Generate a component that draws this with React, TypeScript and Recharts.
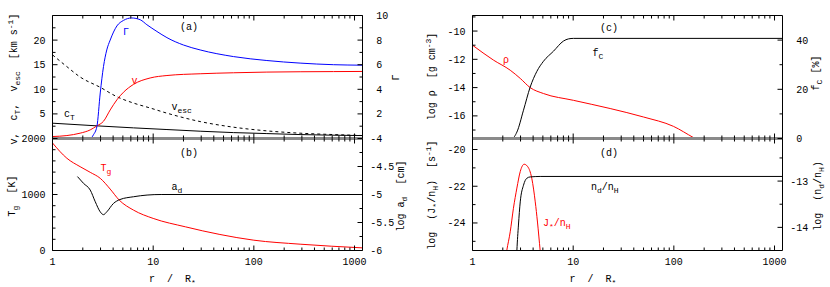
import React from 'react';
import { LineChart, Line, XAxis, YAxis } from 'recharts';

type Pt = [number, number];

const FONT = '"Liberation Mono", "DejaVu Sans Mono", monospace';

// shared log x axis (r / R*)
const xDomain = [1, 1200];
const xMajor = [1, 10, 100, 1000];
const xMinor = [2, 3, 4, 5, 6, 7, 8, 9, 20, 30, 40, 50, 60, 70, 80, 90, 200, 300, 400, 500, 600, 700, 800, 900];
const xLabels = ['1', '10', '100', '1000'];

// (a) v, c_T, v_esc [km/s] (left) and Gamma (right)
const vPts: Pt[] = [[1, 0.4], [1.39, 0.6], [1.88, 1.08], [2.37, 1.75], [2.76, 2.57], [3.21, 3.5], [3.74, 5.8], [4.36, 7.86], [5.07, 9.4], [6.38, 11.0], [9.33, 12.3], [13.7, 12.8], [29.3, 13.16], [62.8, 13.36], [134.6, 13.5], [617, 13.6], [1197, 13.63]];
const cTPts: Pt[] = [[1, 3.11], [2.76, 2.57], [6.38, 2.16], [13.7, 1.82], [29.3, 1.48], [62.8, 1.2], [134.6, 1.0], [288, 0.8], [1197, 0.6]];
const vescPts: Pt[] = [[1, 17.0], [1.39, 14.6], [1.88, 12.5], [2.98, 10.4], [4.36, 8.5], [6.38, 7.2], [9.33, 6.2], [13.7, 5.15], [29.3, 3.44], [62.8, 2.3], [134.6, 1.55], [288, 1.08], [617, 0.8], [1197, 0.6]];
const gammaPts: Pt[] = [[1, 0], [2.37, 0], [2.55, 0.3], [2.76, 0.97], [2.98, 3.7], [3.21, 5.85], [3.46, 7.2], [3.74, 8.0], [4.36, 9.15], [5.07, 9.6], [6.1, 9.8], [7.45, 9.65], [8.66, 9.25], [10.9, 8.7], [13.7, 8.2], [20, 7.6], [29.3, 7.2], [62.8, 6.66], [134.6, 6.34], [288, 6.13], [617, 6.0], [1197, 5.96]];

// (b) T_g [K] (left) and log a_d [cm] (right)
const tgPts: Pt[] = [[1, 1920], [1.39, 1647], [1.88, 1497], [2.37, 1396], [2.98, 1289], [3.74, 1097], [4.6, 900], [6.38, 721], [10, 573], [21, 422], [46, 286], [100, 184], [288, 113], [1197, 47]];
const adPts: Pt[] = [[1.77, -4.68], [2.03, -4.8], [2.37, -4.92], [2.66, -5.13], [2.98, -5.31], [3.21, -5.36], [3.46, -5.31], [4.03, -5.16], [4.68, -5.09], [6.38, -5.04], [8.7, -5.01], [12, -5.0], [1197, -5.0]];

// (c) log rho (left) and f_C [%] (right)
const rhoPts: Pt[] = [[1, -11.0], [1.62, -12.06], [2.37, -12.77], [2.98, -13.35], [3.74, -14.0], [5.07, -14.42], [10.06, -14.9], [23.3, -15.48], [50, -16.08], [99, -16.74], [157, -17.54], [250, -18.3]];
const fcPts: Pt[] = [[1, 0], [2.46, 0], [2.76, 2.6], [3.21, 11.5], [3.74, 20.9], [4.36, 27.3], [5.07, 31.4], [6.38, 35.5], [8.0, 39.6], [9.0, 40.5], [10.06, 40.7], [1197, 40.7]];

// (d) log J*/n_H (left) and log n_d/n_H (right)
const jPts: Pt[] = [[2.0, -27], [2.19, -25.5], [2.37, -24.48], [2.55, -23.2], [2.76, -22.1], [2.98, -21.2], [3.26, -20.8], [3.6, -21.0], [3.89, -21.6], [4.2, -22.85], [4.42, -23.95], [4.7, -25.5], [5.0, -27]];
const ndPts: Pt[] = [[2.7, -15], [2.76, -14.5], [2.86, -13.95], [2.98, -13.45], [3.21, -13.09], [3.46, -12.94], [3.74, -12.91], [4.7, -12.9], [1197, -12.9]];

// y axes: domain, labelled ticks, minor ticks
const aLeft = { domain: [0, 25], major: [5, 10, 15, 20], minor: [2.5, 7.5, 12.5, 17.5, 22.5] };
const aRight = { domain: [0, 10], major: [2, 4, 6, 8, 10], minor: [1, 3, 5, 7, 9] };
const bLeft = { domain: [0, 2000], major: [0, 1000, 2000], minor: [200, 400, 600, 800, 1200, 1400, 1600, 1800] };
const bRight = { domain: [-6, -4], major: [-6, -5.5, -5, -4.5, -4], minor: [-5.75, -5.25, -4.75, -4.25] };
const cLeft = { domain: [-17.6, -8.9], major: [-16, -14, -12, -10], minor: [-17, -15, -13, -11, -9] };
const cRight = { domain: [0, 50], major: [0, 20, 40], minor: [10, 30] };
const dLeft = { domain: [-25.5, -19.4], major: [-24, -22, -20], minor: [-25, -23, -21] };
const dRight = { domain: [-14.5, -12.08], major: [-14, -13], minor: [-13.5, -12.5] };

type Side = 'top' | 'bottom' | 'left' | 'right';

const fmtY = (v: number, side: Side) => (side === 'right' && v >= 0 ? ' ' : '') + String(v);

// gnuplot style ticks: pointing inward, longer for labelled ones
const makeTick = (side: Side, major: number[], labels: string[] | null) => (props: any) => {
  const { x, y, payload } = props;
  const v: number = payload.value;
  const idx = major.findIndex((m) => Math.abs(m - v) < 1e-9);
  const len = idx >= 0 ? 5 : 3;
  let x2 = x, y2 = y, tx = x, ty = y;
  let anchor: 'start' | 'middle' | 'end' = 'middle';
  if (side === 'bottom') { y2 = y - len; ty = y + 14.5; }
  if (side === 'top') { y2 = y + len; }
  if (side === 'left') { x2 = x + len; tx = x - 7; ty = y + 3.5; anchor = 'end'; }
  if (side === 'right') { x2 = x - len; tx = x + 7.7; ty = y + 3.5; anchor = 'start'; }
  const label = idx >= 0 && labels ? labels[idx] : null;
  return (
    <g>
      <line x1={x} y1={y} x2={x2} y2={y2} stroke="#000" strokeWidth={1} />
      {label !== null && (
        <text x={tx} y={ty} textAnchor={anchor} fontFamily={FONT} fontSize={10} fill="#000" style={{ whiteSpace: 'pre' }}>
          {label}
        </text>
      )}
    </g>
  );
};

type AxisDef = { domain: number[]; major: number[]; minor: number[] };
type Series = { pts: Pt[]; axis: 'l' | 'r'; color: string; dash?: string };

const rows = (pts: Pt[]) => pts.map(([r, y]) => ({ r, y }));
const allTicks = (a: AxisDef) => [...a.major, ...a.minor].sort((p, q) => p - q);
const xTicks = [...xMajor, ...xMinor].sort((p, q) => p - q);

const Panel = ({ left, top, width, height, margin, leftW, rightW, yl, yr, lowerPanel, series }: {
  left: number; top: number; width: number; height: number;
  margin: { top: number; right: number; bottom: number; left: number };
  leftW: number; rightW: number; yl: AxisDef; yr: AxisDef; lowerPanel: boolean; series: Series[];
}) => (
  <div style={{ position: 'absolute', left, top }}>
    <LineChart width={width} height={height} margin={margin}>
      <XAxis
        xAxisId="b" type="number" dataKey="r" scale="log" domain={xDomain} allowDataOverflow
        ticks={xTicks} interval={0} tickSize={0} tickMargin={0} tickLine={false}
        height={lowerPanel ? 30 : 1}
        axisLine={lowerPanel ? { stroke: '#000', strokeWidth: 1 } : { stroke: '#8a8a8a', strokeWidth: 3 }}
        tick={makeTick('bottom', xMajor, lowerPanel ? xLabels : null)}
      />
      <XAxis
        xAxisId="t" orientation="top" type="number" dataKey="r" scale="log" domain={xDomain} allowDataOverflow
        ticks={xTicks} interval={0} tickSize={0} tickMargin={0} tickLine={false}
        height={1}
        axisLine={lowerPanel ? false : { stroke: '#000', strokeWidth: 1 }}
        tick={makeTick('top', xMajor, null)}
      />
      <YAxis
        yAxisId="l" type="number" domain={yl.domain} allowDataOverflow ticks={allTicks(yl)} interval={0}
        tickSize={0} tickMargin={0} tickLine={false} width={leftW} axisLine={{ stroke: '#000', strokeWidth: 1 }}
        tick={makeTick('left', yl.major, yl.major.map((v) => fmtY(v, 'left')))}
      />
      <YAxis
        yAxisId="r" orientation="right" type="number" domain={yr.domain} allowDataOverflow ticks={allTicks(yr)} interval={0}
        tickSize={0} tickMargin={0} tickLine={false} width={rightW} axisLine={{ stroke: '#000', strokeWidth: 1 }}
        tick={makeTick('right', yr.major, yr.major.map((v) => fmtY(v, 'right')))}
      />
      {series.map((s, i) => (
        <Line
          key={i} xAxisId="b" yAxisId={s.axis} data={rows(s.pts)} dataKey="y" type="monotone"
          stroke={s.color} strokeWidth={1} strokeDasharray={s.dash} dot={false} activeDot={false}
          isAnimationActive={false}
        />
      ))}
    </LineChart>
  </div>
);

// rich text helper: level 0 normal, 1 subscript, -1 superscript
const rich = (parts: [string, number][]) => {
  let cur = 0;
  return parts.map(([s, lvl], i) => {
    const target = lvl === 1 ? 3 : lvl === -1 ? -4 : 0;
    const dy = target - cur;
    cur = target;
    return (
      <tspan key={i} dy={dy} fontSize={lvl ? 8 : 10}>{s}</tspan>
    );
  });
};

const T = ({ x, y, color = '#000', anchor = 'start', rot = false, parts }: {
  x: number; y: number; color?: string; anchor?: 'start' | 'middle' | 'end'; rot?: boolean; parts: [string, number][];
}) => (
  <text
    x={rot ? 0 : x} y={rot ? 0 : y} transform={rot ? `translate(${x},${y}) rotate(-90)` : undefined}
    textAnchor={anchor} fill={color} fontFamily={FONT} fontSize={10} style={{ whiteSpace: 'pre' }}
  >
    {rich(parts)}
  </text>
);

// upper panels: plot 15.5 .. 138.5, lower panels: 138.5 .. 250.5 (page pixels)
const upperMargin = { top: 14.5, right: 0.5, bottom: 10.5, left: 0.5 };
const lowerMargin = { top: 9.5, right: 0.5, bottom: 6.5, left: 0.5 };

export default function App() {
  return (
    <div style={{ position: 'absolute', left: 0, top: 0, width: 830, height: 287, background: '#fff', fontFamily: FONT }}>
      <Panel
        left={0} top={0} width={420} height={150} margin={upperMargin} leftW={52} rightW={57}
        yl={aLeft} yr={aRight} lowerPanel={false}
        series={[
          { pts: cTPts, axis: 'l', color: '#000' },
          { pts: vescPts, axis: 'l', color: '#000', dash: '3 3' },
          { pts: vPts, axis: 'l', color: '#ff0000' },
          { pts: gammaPts, axis: 'r', color: '#0000ff' },
        ]}
      />
      <Panel
        left={0} top={128} width={420} height={159} margin={lowerMargin} leftW={52} rightW={57}
        yl={bLeft} yr={bRight} lowerPanel
        series={[
          { pts: tgPts, axis: 'l', color: '#ff0000' },
          { pts: adPts, axis: 'r', color: '#000' },
        ]}
      />
      <Panel
        left={420} top={0} width={410} height={150} margin={upperMargin} leftW={52} rightW={47}
        yl={cLeft} yr={cRight} lowerPanel={false}
        series={[
          { pts: rhoPts, axis: 'l', color: '#ff0000' },
          { pts: fcPts, axis: 'r', color: '#000' },
        ]}
      />
      <Panel
        left={420} top={128} width={410} height={159} margin={lowerMargin} leftW={52} rightW={47}
        yl={dLeft} yr={dRight} lowerPanel
        series={[
          { pts: jPts, axis: 'l', color: '#ff0000' },
          { pts: ndPts, axis: 'r', color: '#000' },
        ]}
      />
      <svg width={830} height={287} style={{ position: 'absolute', left: 0, top: 0, pointerEvents: 'none' }}>
        {/* panel tags */}
        <T x={189} y={30} anchor="middle" parts={[['(a)', 0]]} />
        <T x={189} y={156} anchor="middle" parts={[['(b)', 0]]} />
        <T x={609} y={30.5} anchor="middle" parts={[['(c)', 0]]} />
        <T x={609} y={156} anchor="middle" parts={[['(d)', 0]]} />

        {/* curve labels */}
        <T x={123} y={35} color="#0000ff" parts={[['Γ', 0]]} />
        <T x={131.5} y={83.5} color="#ff0000" parts={[['v', 0]]} />
        <T x={171.5} y={110} parts={[['v', 0], ['esc', 1]]} />
        <T x={64} y={117} parts={[['c', 0], ['T', 1]]} />
        <T x={100.5} y={171} color="#ff0000" parts={[['T', 0], ['g', 1]]} />
        <T x={171.5} y={190} parts={[['a', 0], ['d', 1]]} />
        <T x={503} y={62.5} color="#ff0000" parts={[['ρ', 0]]} />
        <T x={592.5} y={56} parts={[['f', 0], ['C', 1]]} />
        <T x={591} y={190} parts={[['n', 0], ['d', 1], ['/n', 0], ['H', 1]]} />
        <T x={543} y={226} color="#ff0000" parts={[['J', 0], ['*', 1], ['/n', 0], ['H', 1]]} />

        {/* axis titles */}
        <T x={17} y={79} rot anchor="middle" parts={[['v,  c', 0], ['T', 1], [',  v', 0], ['esc', 1], ['  [km s', 0], ['-1', -1], [']', 0]]} />
        <T x={398.5} y={77.5} rot anchor="middle" parts={[['Γ', 0]]} />
        <T x={15} y={196} rot anchor="middle" parts={[['T', 0], ['g', 1], ['  [K]', 0]]} />
        <T x={404} y={196} rot anchor="middle" parts={[['log a', 0], ['d', 1], ['  [cm]', 0]]} />
        <T x={435} y={76.5} rot anchor="middle" parts={[['log ρ  [g cm', 0], ['-3', -1], [']', 0]]} />
        <T x={819} y={73} rot anchor="middle" parts={[['f', 0], ['C', 1], [' [%]', 0]]} />
        <T x={435} y={195} rot anchor="middle" parts={[['log  (J', 0], ['*', 1], ['/n', 0], ['H', 1], [')  [s', 0], ['-1', -1], [']', 0]]} />
        <T x={820.5} y={196} rot anchor="middle" parts={[['log  (n', 0], ['d', 1], ['/n', 0], ['H', 1], [')', 0]]} />
        <T x={149} y={281.5} parts={[['r  /  R', 0], ['*', 1]]} />
        <T x={569.5} y={281.5} parts={[['r  /  R', 0], ['*', 1]]} />
      </svg>
    </div>
  );
}
